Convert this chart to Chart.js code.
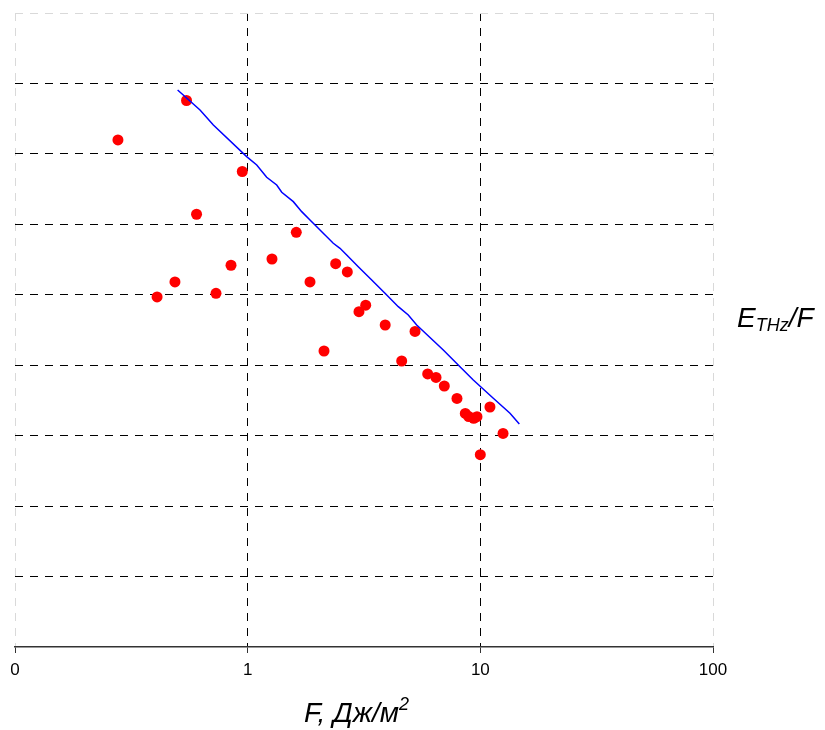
<!DOCTYPE html>
<html>
<head>
<meta charset="utf-8">
<script src="https://cdn.jsdelivr.net/npm/chart.js@4/dist/chart.umd.min.js"></script>
<style>
  html, body { margin: 0; padding: 0; background: #fff; }
  #wrap { position: relative; width: 825px; height: 730px; }
  canvas { position: absolute; left: 0; top: 0; }
  .ttl { position: absolute; font-family: "Liberation Sans", Arial, sans-serif; font-style: italic; font-size: 28px; line-height: 1; color: #000; white-space: nowrap; }
  .ttl sup { font-size: 18px; vertical-align: 12px; line-height: 0; }
  .ttl sub { font-size: 18px; vertical-align: -4px; line-height: 0; }
</style>
</head>
<body>
<div id="wrap">
  <canvas id="c" width="825" height="730"></canvas>
  <div class="ttl" id="xt" style="left:304px; top:699px;">F, Дж/м<sup>2</sup></div>
  <div class="ttl" id="yt" style="left:737px; top:304px;">E<sub>THz</sub>/F</div>
</div>
<script>
// Measured points: fluence F (x) and E_THz/F (y, relative units)
const pointsF = [0.277, 0.546, 0.408, 0.487, 0.603, 0.731, 0.848, 0.948, 1.272, 1.618,
                 1.853, 2.129, 2.389, 2.681, 3.009, 3.216, 3.900, 4.592, 5.239, 5.939,
                 6.449, 7.000, 7.935, 8.619, 8.913, 9.366, 9.674, 9.997, 11.00, 12.52];
const pointsE = [7.198, 7.758, 4.969, 5.182, 6.143, 5.021, 5.419, 6.750, 5.508, 5.887,
                 5.182, 4.202, 5.442, 5.324, 4.760, 4.852, 4.571, 4.060, 4.479, 3.876,
                 3.826, 3.705, 3.528, 3.315, 3.272, 3.247, 3.270, 2.730, 3.407, 3.031];
// Fitted curve
const curveF = [0.500, 0.624, 0.712, 0.990, 1.094, 1.207, 1.333, 1.401, 1.571, 1.707,
                1.853, 2.333, 2.494, 2.665, 2.988, 3.413, 3.893, 4.440, 4.902, 5.327,
                6.931, 8.177, 9.327, 11.37, 13.41, 14.71];
const curveE = [7.907, 7.624, 7.411, 6.961, 6.843, 6.668, 6.559, 6.455, 6.322, 6.180,
                6.062, 5.731, 5.660, 5.565, 5.399, 5.210, 5.021, 4.831, 4.713, 4.571,
                4.216, 3.979, 3.790, 3.531, 3.318, 3.166];
// Axis ticks
const xTickValues = [0.1, 1, 10, 100];
const xTickLabels = ["0", "1", "10", "100"];
const yMin = 0, yMax = 9;

const scatterData = pointsF.map((f, i) => ({ x: f, y: pointsE[i] }));
const curveData = curveF.map((f, i) => ({ x: f, y: curveE[i] }));

new Chart(document.getElementById('c'), {
  type: 'scatter',
  data: {
    datasets: [
      {
        type: 'line',
        data: curveData,
        borderColor: '#0000ff',
        borderWidth: 1.5,
        pointRadius: 0,
        fill: false,
        tension: 0
      },
      {
        data: scatterData,
        backgroundColor: '#ff0000',
        borderColor: '#ff0000',
        borderWidth: 0,
        pointRadius: 5.5,
        pointHoverRadius: 5.5
      }
    ]
  },
  options: {
    responsive: false,
    animation: false,
    events: [],
    layout: { padding: { left: 15, right: 112, top: 13, bottom: 0 } },
    plugins: { legend: { display: false }, tooltip: { enabled: false } },
    scales: {
      x: {
        type: 'logarithmic',
        min: 0.1,
        max: 100,
        afterBuildTicks: (s) => { s.ticks = xTickValues.map(v => ({ value: v })); },
        afterFit: (s) => { s.height = 83; },
        ticks: {
          autoSkip: false,
          maxRotation: 0,
          padding: 7,
          color: '#000',
          font: { family: '"Liberation Sans", Arial, sans-serif', size: 17 },
          callback: (v) => { const i = xTickValues.indexOf(v); return i >= 0 ? xTickLabels[i] : ''; }
        },
        grid: {
          color: (ctx) => (ctx.tick && (ctx.tick.value === 1 || ctx.tick.value === 10)) ? '#000' : '#d9d9d9',
          lineWidth: 1,
          drawTicks: true,
          tickLength: 6,
          tickColor: '#333',
          tickBorderDash: [],
          tickWidth: 1
        },
        border: { display: true, color: '#333', width: 1.5, dash: [8, 7] }
      },
      y: {
        type: 'linear',
        min: yMin,
        max: yMax,
        afterFit: (s) => { s.width = 0; },
        ticks: { display: false, stepSize: 1 },
        grid: {
          color: (ctx) => {
            if (!ctx.tick) return '#000';
            if (ctx.tick.value === yMax) return '#d9d9d9';
            if (ctx.tick.value === yMin) return 'rgba(0,0,0,0)';
            return '#000';
          },
          lineWidth: 1,
          drawTicks: false
        },
        border: { display: false, dash: [8, 7] }
      }
    }
  }
});
</script>
</body>
</html>
